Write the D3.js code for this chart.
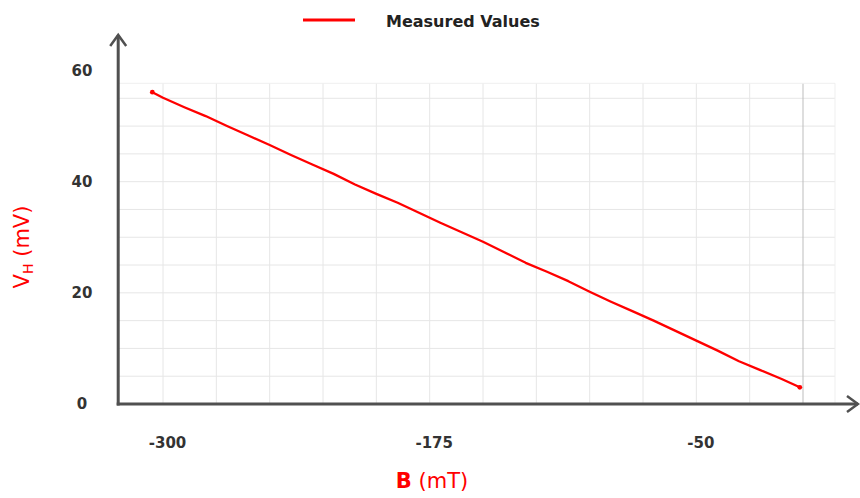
<!DOCTYPE html>
<html>
<head>
<meta charset="utf-8">
<script src="https://cdn.jsdelivr.net/npm/d3@7"></script>
<style>
  html, body { margin: 0; padding: 0; background: #fff; }
  svg { display: block; }
</style>
</head>
<body>
<svg id="chart" width="860" height="498"></svg>
<script>
// ---- data ----
const fieldB = [-305, -300, -290, -280, -270, -260, -250, -240, -230, -220, -210, -200,
  -190, -180, -170, -160, -150, -140, -130, -120, -110, -100, -90, -80, -70, -60,
  -50, -40, -30, -20, -10, -1.5];
const hallV = [56.1, 55.1, 53.4, 51.8, 50.0, 48.3, 46.6, 44.8, 43.1, 41.4, 39.5, 37.8,
  36.2, 34.4, 32.6, 30.9, 29.2, 27.3, 25.4, 23.8, 22.1, 20.2, 18.4, 16.7, 15.0, 13.2,
  11.4, 9.6, 7.7, 6.1, 4.5, 3.0];
const xTickValues = [-300, -175, -50];
const yTickValues = [0, 20, 40, 60];
const xGridValues = [-300, -275, -250, -225, -200, -175, -150, -125, -100, -75, -50, -25, 0];
const yGridValues = [5, 10, 15, 20, 25, 30, 35, 40, 45, 50, 55];
const seriesName = "Measured Values";

// ---- scales ----
const svg = d3.select("#chart");
const x = d3.scaleLinear().domain([-300, 0]).range([163, 803]);
const y = d3.scaleLinear().domain([0, 60]).range([404, 70.5]);
const xMin = -321, xMax = 15, yTop = 57.7;

const font = "'DejaVu Sans', Verdana, sans-serif";
const red = "#ff0000";
const plainNum = d => String(d);

// ---- grid ----
const grid = svg.append("g");
grid.selectAll("line.h").data(yGridValues).join("line")
  .attr("x1", x(xMin)).attr("x2", x(xMax))
  .attr("y1", d => y(d)).attr("y2", d => y(d))
  .attr("stroke", "#e6e6e6").attr("stroke-width", 1);
grid.selectAll("line.v").data(xGridValues).join("line")
  .attr("x1", d => x(d)).attr("x2", d => x(d))
  .attr("y1", y(yTop)).attr("y2", y(0))
  .attr("stroke", d => d === 0 ? "#bdbdbd" : "#e6e6e6").attr("stroke-width", 1);
grid.append("line").attr("x1", x(xMin)).attr("x2", x(xMax)).attr("y1", y(yTop)).attr("y2", y(yTop))
  .attr("stroke", "#efefef");
grid.append("line").attr("x1", x(xMax)).attr("x2", x(xMax)).attr("y1", y(yTop)).attr("y2", y(0))
  .attr("stroke", "#efefef");

// ---- data line ----
const pts = fieldB.map((b, i) => [b, hallV[i]]);
svg.append("path")
  .datum(pts)
  .attr("fill", "none")
  .attr("stroke", red)
  .attr("stroke-width", 2.3)
  .attr("stroke-linejoin", "round")
  .attr("stroke-linecap", "round")
  .attr("d", d3.line().x(d => x(d[0])).y(d => y(d[1])));
svg.selectAll("circle.end").data([pts[0], pts[pts.length - 1]]).join("circle")
  .attr("cx", d => x(d[0])).attr("cy", d => y(d[1])).attr("r", 2.4).attr("fill", red);

// ---- axes lines with arrows ----
const axisColor = "#505050";
const x0 = x(xMin), y0 = y(0);
svg.append("line").attr("x1", x0).attr("x2", x0).attr("y1", y0 + 1.5).attr("y2", 35)
  .attr("stroke", axisColor).attr("stroke-width", 3);
svg.append("line").attr("x1", x0 - 1.5).attr("x2", 858).attr("y1", y0).attr("y2", y0)
  .attr("stroke", axisColor).attr("stroke-width", 3);
svg.append("path").attr("d", `M${x0 - 8},${46} L${x0},${35} L${x0 + 8},${46}`)
  .attr("fill", "none").attr("stroke", axisColor).attr("stroke-width", 2.5);
svg.append("path").attr("d", `M${847},${y0 - 8} L${858},${y0} L${847},${y0 + 8}`)
  .attr("fill", "none").attr("stroke", axisColor).attr("stroke-width", 2.5);

// ---- tick labels ----
const yAxisG = svg.append("g").attr("transform", "translate(82,0)")
  .call(d3.axisLeft(y).tickValues(yTickValues).tickFormat(plainNum).tickSize(0).tickPadding(0));
yAxisG.select(".domain").remove();
yAxisG.selectAll("text")
  .attr("x", 0).attr("text-anchor", "middle")
  .attr("font-family", font).attr("font-weight", "bold").attr("font-size", 15)
  .attr("fill", "#333");

const xAxisG = svg.append("g").attr("transform", "translate(4,437)")
  .call(d3.axisBottom(x).tickValues(xTickValues).tickFormat(plainNum).tickSize(0).tickPadding(0));
xAxisG.select(".domain").remove();
xAxisG.selectAll("text")
  .attr("font-family", font).attr("font-weight", "bold").attr("font-size", 15)
  .attr("fill", "#333");

// ---- axis titles ----
const xt = svg.append("text").attr("x", 432).attr("y", 488).attr("text-anchor", "middle")
  .attr("font-family", font).attr("font-size", 21).attr("fill", red);
xt.append("tspan").attr("font-weight", "bold").text("B");
xt.append("tspan").text(" (mT)");

const yt = svg.append("text")
  .attr("transform", "translate(29,247) rotate(-90)")
  .attr("text-anchor", "middle")
  .attr("font-family", font).attr("font-size", 21).attr("fill", red);
yt.append("tspan").text("V");
yt.append("tspan").attr("font-size", 14).attr("dy", 4).text("H");
yt.append("tspan").attr("dy", -4).text(" (mV)");

// ---- legend ----
svg.append("line").attr("x1", 303).attr("x2", 355).attr("y1", 20).attr("y2", 20)
  .attr("stroke", red).attr("stroke-width", 3);
svg.append("text").attr("x", 386).attr("y", 27)
  .attr("font-family", font).attr("font-weight", "bold").attr("font-size", 16)
  .attr("fill", "#222").text(seriesName);
</script>
</body>
</html>
